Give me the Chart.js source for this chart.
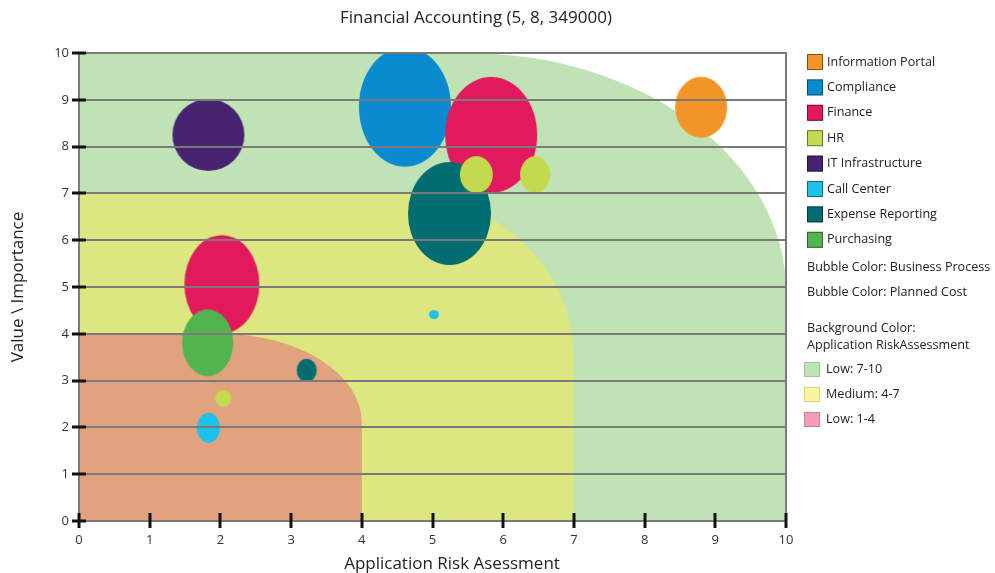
<!DOCTYPE html>
<html>
<head>
<meta charset="utf-8">
<script src="https://cdn.jsdelivr.net/npm/chart.js@4.4.1/dist/chart.umd.min.js"></script>
<style>
  html, body { margin: 0; padding: 0; background: #fff; }
</style>
</head>
<body>
<canvas id="bubble" width="995" height="573"></canvas>
<script>
// categories (business process) and their bubble colours
var categories   = ['Information Portal', 'Compliance', 'Finance', 'HR', 'IT Infrastructure', 'Call Center', 'Expense Reporting', 'Purchasing'];
var bubbleColors = ['#f39526', '#0a8bcf', '#e2195c', '#c4da4e', '#472370', '#1cc2ea', '#026d70', '#52b44e'];

// risk (x), value (y) and planned cost (bubble radius) per category
var riskX  = [[8.80], [4.61], [5.83, 2.02], [5.62, 6.45, 2.04], [1.83], [5.02, 1.83], [5.24, 3.22], [1.82]];
var valueY = [[8.84], [8.85], [8.25, 5.06], [7.40, 7.40, 2.62], [8.25], [4.41, 1.99], [6.57, 3.22], [3.81]];
var costR  = [[26], [46], [46, 37.5], [16.5, 15, 8], [36], [5, 11.5], [41.5, 10], [25.5]];

var xTicks = [0, 1, 2, 3, 4, 5, 6, 7, 8, 9, 10];
var yTicks = [0, 1, 2, 3, 4, 5, 6, 7, 8, 9, 10];

// background risk zones
var zoneLimits  = [10, 7, 4];
var riskLegend  = ['Low: 7-10', 'Medium: 4-7', 'Low: 1-4'];
var notes       = ['Bubble Color: Business Process', 'Bubble Color: Planned Cost'];

// styles
var bubbleStretch = [[1.17], [1.3], [1.26, 1.31], [1.12, 1.23, 1.06], [1.0], [0.9, 1.3], [1.24, 1.15], [1.31]];
var drawOrder     = [1, 8, 7, 4, 2, 3, 6, 5];
var zoneColors    = ['#bfe3b5', '#dce780', '#e0a37e'];
var zoneCornerX   = [4.5, 2.5, 2];
var zoneCornerY   = [5.1, 3.5, 1.9];
var riskLegendColors  = ['#c0e3b4', '#f8f4a2', '#f49aba'];
var riskLegendBorders = ['#9fc596', '#d6d27e', '#d47d9a'];
var FONT = '"Open Sans", "Noto Sans", sans-serif';

var imgCache = {};
function ellipseImage(r, s, color) {
    var key = r + '|' + s + '|' + color;
    if (imgCache[key]) return imgCache[key];
    var c = document.createElement('canvas');
    c.width = Math.ceil(2 * r) + 2;
    c.height = Math.ceil(2 * r * s) + 2;
    var g = c.getContext('2d');
    g.fillStyle = color;
    g.beginPath();
    g.ellipse(c.width / 2, c.height / 2, r, r * s, 0, 0, Math.PI * 2);
    g.fill();
    imgCache[key] = c;
    return c;
}

var datasets = categories.map(function(name, i) {
    return {
        label: name,
        order: drawOrder[i],
        backgroundColor: bubbleColors[i],
        borderWidth: 0,
        data: riskX[i].map(function(x, j) {
            return { x: x, y: valueY[i][j], r: costR[i][j] };
        }),
        pointStyle: function(ctx) {
            if (!ctx.raw) return 'circle';
            return ellipseImage(ctx.raw.r, bubbleStretch[i][ctx.dataIndex], bubbleColors[i]);
        }
    };
});

// rounded risk zones behind the bubbles
var zonesPlugin = {
    id: 'zones',
    beforeDatasetsDraw: function(chart) {
        var ctx = chart.ctx, xs = chart.scales.x, ys = chart.scales.y;
        ctx.save();
        zoneLimits.forEach(function(lim, k) {
            var L = xs.getPixelForValue(0), R = xs.getPixelForValue(lim);
            var B = ys.getPixelForValue(0), T = ys.getPixelForValue(lim);
            var rx = R - xs.getPixelForValue(lim - zoneCornerX[k]);
            var ry = ys.getPixelForValue(lim - zoneCornerY[k]) - T;
            ctx.fillStyle = zoneColors[k];
            ctx.beginPath();
            ctx.moveTo(L, B);
            ctx.lineTo(L, T);
            ctx.lineTo(R - rx, T);
            ctx.ellipse(R - rx, T + ry, rx, ry, 0, -Math.PI / 2, 0);
            ctx.lineTo(R, B);
            ctx.closePath();
            ctx.fill();
        });
        ctx.restore();
    }
};

// frame, tick marks, titles and legend
var decorPlugin = {
    id: 'decor',
    afterDraw: function(chart) {
        var ctx = chart.ctx, xs = chart.scales.x, ys = chart.scales.y, a = chart.chartArea;
        ctx.save();
        ctx.strokeStyle = '#7a7a7a';
        ctx.lineWidth = 2;
        ctx.strokeRect(a.left, a.top, a.right - a.left, a.bottom - a.top);

        ctx.strokeStyle = '#111';
        ctx.lineWidth = 3;
        ctx.beginPath();
        yTicks.forEach(function(v) {
            var py = Math.round(ys.getPixelForValue(v));
            ctx.moveTo(a.left - 7, py);
            ctx.lineTo(a.left + 7, py);
        });
        xTicks.forEach(function(v) {
            var px = Math.round(xs.getPixelForValue(v));
            ctx.moveTo(px, a.bottom - 8);
            ctx.lineTo(px, a.bottom + 7);
        });
        ctx.stroke();

        ctx.fillStyle = '#222';
        ctx.textBaseline = 'middle';
        ctx.textAlign = 'center';
        ctx.font = '17px ' + FONT;
        ctx.fillText('Financial Accounting (5, 8, 349000)', 476, 18);
        ctx.fillText('Application Risk Asessment', 452, 564);
        ctx.save();
        ctx.translate(18, (a.top + a.bottom) / 2);
        ctx.rotate(-Math.PI / 2);
        ctx.fillText('Value \\ Importance', 0, 0);
        ctx.restore();

        // legend
        var lx = 807, ly = 62, step = 25.4;
        ctx.textAlign = 'left';
        ctx.font = '12.6px ' + FONT;
        categories.forEach(function(name, i) {
            var cy = ly + i * step;
            ctx.fillStyle = bubbleColors[i];
            ctx.fillRect(lx, cy - 8, 16, 16);
            ctx.strokeStyle = 'rgba(0,0,0,0.45)';
            ctx.lineWidth = 1;
            ctx.strokeRect(lx + 0.5, cy - 7.5, 15, 15);
            ctx.fillStyle = '#222';
            ctx.fillText(name, lx + 20, cy);
        });
        ctx.fillText(notes[0], 807, 267);
        ctx.fillText(notes[1], 807, 292);
        ctx.fillText('Background Color:', 807, 328);
        ctx.fillText('Application RiskAssessment', 807, 345);
        riskLegend.forEach(function(name, k) {
            var cy = 369 + k * 25;
            ctx.fillStyle = riskLegendColors[k];
            ctx.fillRect(804, cy - 7, 16, 15);
            ctx.strokeStyle = riskLegendBorders[k];
            ctx.lineWidth = 1;
            ctx.strokeRect(804.5, cy - 6.5, 15, 14);
            ctx.fillStyle = '#222';
            ctx.fillText(name, 826, cy);
        });
        ctx.restore();
    }
};

new Chart(document.getElementById('bubble').getContext('2d'), {
    type: 'bubble',
    data: { datasets: datasets },
    plugins: [zonesPlugin, decorPlugin],
    options: {
        responsive: false,
        devicePixelRatio: 1,
        animation: false,
        layout: { padding: { top: 53, right: 209, bottom: 0, left: 0 } },
        plugins: {
            legend: { display: false },
            title: { display: false },
            tooltip: { enabled: false }
        },
        scales: {
            x: {
                type: 'linear',
                min: 0,
                max: 10,
                afterFit: function(scale) { scale.height = 52; },
                afterBuildTicks: function(scale) {
                    scale.ticks = xTicks.map(function(v) { return { value: v }; });
                },
                border: { display: false },
                grid: { drawOnChartArea: false, drawTicks: false },
                ticks: { color: '#333', padding: 11, font: { family: FONT, size: 13 } }
            },
            y: {
                type: 'linear',
                min: 0,
                max: 10,
                afterFit: function(scale) { scale.width = 79; },
                afterBuildTicks: function(scale) {
                    scale.ticks = yTicks.map(function(v) { return { value: v }; });
                },
                border: { display: false },
                grid: { color: '#7a7a7a', lineWidth: 2, drawTicks: false, z: 1 },
                ticks: { color: '#333', padding: 10, font: { family: FONT, size: 13 } }
            }
        }
    }
});
</script>
</body>
</html>
